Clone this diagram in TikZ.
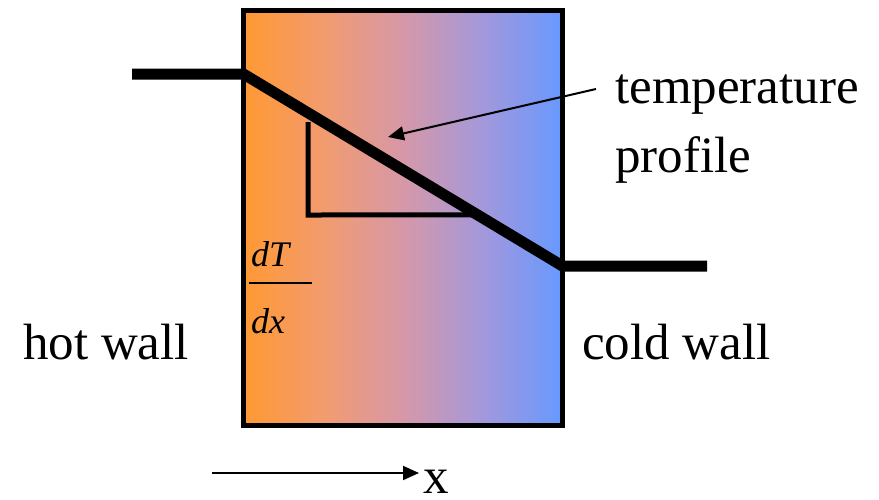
\documentclass[tikz,border=0pt]{standalone}
\usepackage{fontspec}
\setmainfont{Liberation Serif}
\usetikzlibrary{arrows.meta,calc}
\pgfdeclarehorizontalshading{wallgrad}{100bp}{rgb(0bp)=(1,0.6,0.2); rgb(25bp)=(1,0.6,0.2); rgb(37.5bp)=(0.949,0.608,0.431); rgb(50bp)=(0.839,0.596,0.659); rgb(62.5bp)=(0.64,0.596,0.86); rgb(75bp)=(0.4,0.6,1); rgb(100bp)=(0.4,0.6,1)}
\tikzset{
  lbl/.style={anchor=base west, inner sep=0pt, font=\fontsize{51}{60}\selectfont},
  fraclbl/.style={anchor=base west, inner sep=0pt, font=\fontsize{36}{40}\selectfont\itshape},
  profile/.style={line width=11pt},
  thin/.style={line width=5pt},
  pointer/.style={line width=2pt, -{Triangle[length=16pt, width=14pt]}},
}
\begin{document}
\begin{tikzpicture}[x=1pt, y=-1pt]
\useasboundingbox (0,0) rectangle (879,499);
% box
\shade[shading=wallgrad] (243.5,10) rectangle (562.5,425);
\draw[line width=5pt] (243.5,10) rectangle (562.5,425);
% profile
\coordinate (a) at (132,74);
\coordinate (b) at (243.5,74);
\coordinate (c) at (562.5,266);
\coordinate (d) at (707,266);
\draw[profile] (a) -- (b) -- (c) -- (d);
% slope triangle
\coordinate (t1) at (308,122);
\coordinate (t2) at (308,215);
\coordinate (t3) at ($(b)!0.734!(c)$);
\draw[thin] (t1) -- (t2) -- (t3);
% fraction
\node[fraclbl] (dT) at (251,266) {dT};
\node[fraclbl] (dx) at (251,333) {dx};
\coordinate (f1) at (249,283);
\coordinate (f2) at (312,283);
\draw[line width=2pt] (f1) -- (f2);
% labels
\node[lbl] (hot) at (23,359) {hot wall};
\node[lbl] (cold) at (582,359) {cold wall};
\node[lbl] (temp) at (615,103) {temperature};
\node[lbl] (prof) at (615,172) {profile};
% pointer
\coordinate (p1) at (596,89);
\coordinate (p2) at (388,137);
\draw[pointer] (p1) -- (p2);
% x axis
\coordinate (x1) at (212,473);
\coordinate (x2) at (419,473);
\draw[pointer] (x1) -- (x2);
\node[lbl] (xl) at (423,493) {x};
\end{tikzpicture}
\end{document}
